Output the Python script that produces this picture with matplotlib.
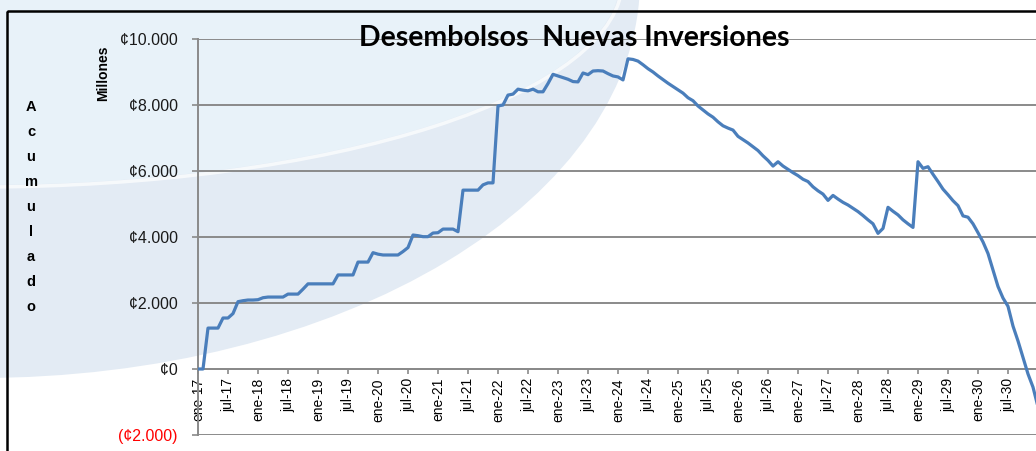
import numpy as np
import matplotlib.pyplot as plt
from matplotlib.patches import Ellipse, Rectangle

## the data: saldo acumulado mensual (millones de colones), ene-17 .. ene-31
desembolsos = [
    0, 0, 1240, 1240, 1240, 1545, 1545, 1680, 2040, 2070, 2090, 2090,          # 2017
    2100, 2160, 2180, 2180, 2180, 2180, 2270, 2270, 2270, 2420, 2580, 2580,    # 2018
    2580, 2580, 2580, 2580, 2850, 2850, 2850, 2850, 3240, 3240, 3240, 3525,    # 2019
    3480, 3455, 3455, 3455, 3455, 3560, 3680, 4060, 4040, 4010, 4010, 4120,    # 2020
    4130, 4240, 4240, 4240, 4160, 5420, 5420, 5420, 5420, 5580, 5640, 5640,    # 2021
    7970, 8000, 8300, 8330, 8480, 8450, 8430, 8480, 8400, 8400, 8650, 8930,    # 2022
    8880, 8830, 8780, 8710, 8700, 8970, 8920, 9030, 9040, 9030, 8950, 8880,    # 2023
    8850, 8760, 9400, 9380, 9330, 9220, 9100, 9000, 8880, 8770, 8660, 8560,    # 2024
    8460, 8360, 8220, 8130, 7970, 7850, 7730, 7630, 7490, 7370, 7300, 7240,    # 2025
    7050, 6950, 6850, 6735, 6620, 6460, 6320, 6150, 6280, 6150, 6050, 5950,    # 2026
    5860, 5750, 5680, 5520, 5400, 5300, 5110, 5260, 5150, 5050, 4970, 4870,    # 2027
    4770, 4650, 4520, 4400, 4110, 4260, 4900, 4780, 4670, 4520, 4400, 4290,    # 2028
    6280, 6080, 6130, 5900, 5680, 5450, 5280, 5100, 4950, 4640, 4600, 4400,    # 2029
    4130, 3850, 3500, 3000, 2500, 2150, 1900, 1300, 850, 350, -150, -550,      # 2030
    -1150,                                                                      # 2031
]
xTickMarks = ['ene-17', 'jul-17', 'ene-18', 'jul-18', 'ene-19', 'jul-19', 'ene-20',
              'jul-20', 'ene-21', 'jul-21', 'ene-22', 'jul-22', 'ene-23', 'jul-23',
              'ene-24', 'jul-24', 'ene-25', 'jul-25', 'ene-26', 'jul-26', 'ene-27',
              'jul-27', 'ene-28', 'jul-28', 'ene-29', 'jul-29', 'ene-30', 'jul-30']
yTicks = [-2000, 0, 2000, 4000, 6000, 8000, 10000]
yTickMarks = ['(¢2.000)', '¢0', '¢2.000', '¢4.000', '¢6.000', '¢8.000', '¢10.000']

plt.rcParams['font.family'] = ['Liberation Sans', 'DejaVu Sans']

W, H = 1036, 451
fig = plt.figure(figsize=(W / 100, H / 100), dpi=100)

# background layer in pixel units (y downwards)
bg = fig.add_axes([0, 0, 1, 1])
bg.set_xlim(0, W)
bg.set_ylim(H, 0)
bg.axis('off')
bg.add_patch(Rectangle((7, 11), W + 20, H, facecolor='white', edgecolor='none'))
bg.add_patch(Ellipse((-20, -20), 1320, 796, facecolor='#e3ebf4', edgecolor='none'))
bg.add_patch(Ellipse((-20, -20), 1280, 410, facecolor='#e8f2f9', edgecolor='none'))
bg.add_patch(Ellipse((-20, -20), 1285, 414, facecolor='none', edgecolor='white',
                     lw=2.5, alpha=0.7))
bg.add_patch(Rectangle((7, 11), W + 20, H, facecolor='none', edgecolor='black', lw=1.8))

## the line
ax = fig.add_axes([198 / W, (H - 435) / H, 172 * 5 / W, 396 / H])
ax.patch.set_alpha(0)
ind = np.arange(len(desembolsos))
ax.plot(ind, desembolsos, color='#4a7ebb', lw=2.3, zorder=3)

# axes and labels
ax.set_xlim(0, 172)
ax.set_ylim(-2000, 10000)
ax.set_yticks(yTicks)
ax.set_yticklabels(yTickMarks, fontsize=11.5, color='#1a1a1a')
ax.get_yticklabels()[0].set_color('red')
ax.set_xticks(np.arange(len(xTickMarks)) * 6)
ax.set_xticklabels(xTickMarks, fontsize=10.5, color='#1a1a1a')
ax.yaxis.grid(True, color='#8a8a8a', lw=1.4)
ax.set_axisbelow(True)
for s in ['top', 'right']:
    ax.spines[s].set_visible(False)
ax.spines['bottom'].set_position(('data', 0))
ax.spines['bottom'].set_color('#8a8a8a')
ax.spines['bottom'].set_linewidth(1.4)
ax.spines['left'].set_color('#8a8a8a')
ax.spines['left'].set_linewidth(1.4)
ax.tick_params(axis='y', length=4.5, width=1.2, color='#8a8a8a', pad=10)
ax.tick_params(axis='x', length=3.5, width=1.2, color='#8a8a8a', pad=3,
               labelrotation=90)

fig.text(574 / W, 1 - 38 / H, 'Desembolsos  Nuevas Inversiones', fontsize=20.5,
         fontweight='bold', ha='center', va='center', family='Lato')
fig.text(103 / W, 1 - 73 / H, 'Millones', fontsize=10, fontweight='bold',
         rotation=90, ha='center', va='center')
for i, ch in enumerate('Acumulado'):
    fig.text(31 / W, 1 - (107 + 25 * i) / H, ch, fontsize=10.5, fontweight='bold',
             ha='center', va='center')

fig.savefig('out.png', dpi=100)
